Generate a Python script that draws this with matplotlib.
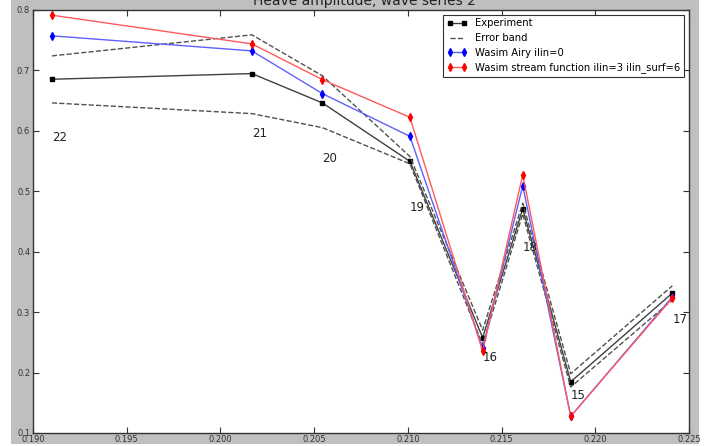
import matplotlib
matplotlib.use('Agg')
import matplotlib.pyplot as plt
from matplotlib.patches import Rectangle

# wave frequencies and run numbers (wave series 2)
freq = [0.19101, 0.20168, 0.20544, 0.21011, 0.21399, 0.21613, 0.21869, 0.22411]
wave_id = [22, 21, 20, 19, 16, 18, 15, 17]

experiment = [0.6847, 0.6941, 0.6456, 0.5490, 0.2575, 0.4707, 0.1847, 0.3312]
err_upper = [0.7233, 0.7581, 0.6905, 0.5570, 0.2700, 0.4800, 0.1980, 0.3433]
err_lower = [0.6456, 0.6279, 0.6047, 0.5450, 0.2460, 0.4620, 0.1760, 0.3200]
airy = [0.7565, 0.7316, 0.6610, 0.5903, 0.2400, 0.5087, 0.1276, 0.3250]
stream = [0.7906, 0.7432, 0.6841, 0.6218, 0.2350, 0.5269, 0.1276, 0.3229]

xticks = [0.190, 0.195, 0.200, 0.205, 0.210, 0.215, 0.220, 0.225]
yticks = [0.1, 0.2, 0.3, 0.4, 0.5, 0.6, 0.7, 0.8]

W, H = 709, 446
fig = plt.figure(figsize=(W / 100, H / 100), dpi=100, facecolor='white')
# grey figure area (screenshot has a thin white border)
fig.patches.append(Rectangle((11 / W, 2 / H), (699 - 11) / W, (H - 2) / H,
                             transform=fig.transFigure, facecolor='0.75',
                             edgecolor='none', zorder=-10))

ax = fig.add_axes([33 / W, (H - 433) / H, (689 - 33) / W, (433 - 9.5) / H])
ax.set_facecolor('white')

ax.plot(freq, experiment, '-', color='#404040', lw=1.0, marker='s', ms=3.3,
        mfc='k', mec='k', label='Experiment')
ax.plot(freq, err_upper, '--', color='#505050', lw=1.0, label='Error band')
ax.plot(freq, err_lower, '--', color='#505050', lw=1.0)
ax.plot(freq, airy, '-', color='#6060ff', lw=1.0, marker='d', ms=4.0,
        mfc='b', mec='b', label='Wasim Airy ilin=0')
ax.plot(freq, stream, '-', color='#ff5a5a', lw=1.0, marker='d', ms=4.0,
        mfc='r', mec='r', label='Wasim stream function ilin=3 ilin_surf=6')

for f, e, n in zip(freq, experiment, wave_id):
    ax.text(f, 0.85 * e, str(n), ha='left', va='baseline', fontsize=8.5,
            color='#222222')

ax.set_xlim(0.190, 0.225)
ax.set_ylim(0.1, 0.8)
ax.set_xticks(xticks)
ax.set_yticks(yticks)
ax.set_xticklabels(['%.3f' % t for t in xticks])
ax.set_yticklabels(['%.1f' % t for t in yticks])
ax.tick_params(direction='in', top=True, right=True, length=4, width=0.8,
               labelsize=6, colors='#333333')
ax.tick_params(axis='x', pad=1.5)
ax.tick_params(axis='y', pad=2)
for sp in ax.spines.values():
    sp.set_color('#333333')
    sp.set_linewidth(1.0)

leg = ax.legend(loc='upper right', fontsize=7.2, numpoints=2, fancybox=False,
                framealpha=1, edgecolor='#333333', borderaxespad=0.5,
                handlelength=2.0, handletextpad=0.8, labelspacing=0.45,
                borderpad=0.4)
leg.get_frame().set_linewidth(0.8)

# title sits partly above the cropped image edge
fig.text(364 / W, 1 - 4.5 / H, 'Heave amplitude, wave series 2', ha='center',
         va='baseline', fontsize=10, color='#222222')

fig.savefig('out.png', dpi=100, facecolor=fig.get_facecolor())
